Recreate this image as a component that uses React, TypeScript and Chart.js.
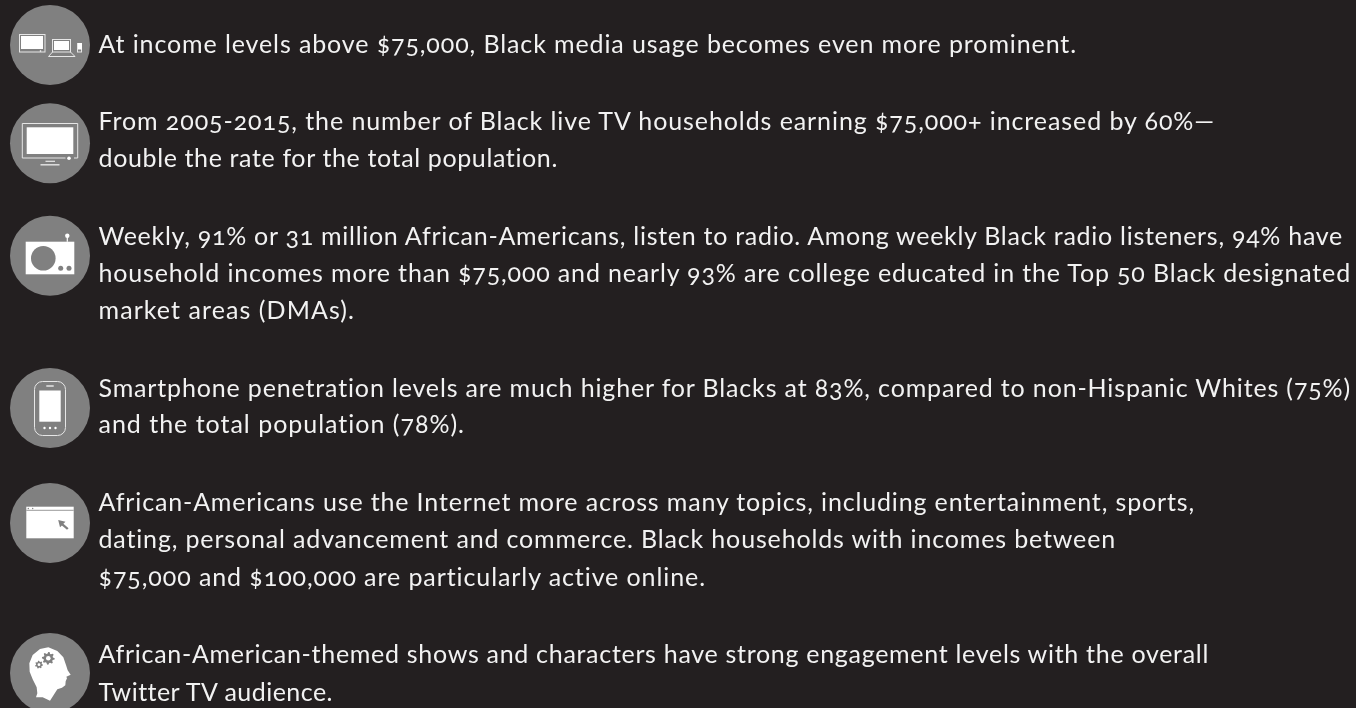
import React, { useEffect, useLayoutEffect, useRef } from "react";
import { Chart, registerables } from "chart.js";

Chart.register(...registerables);

const circleX = [50, 50, 50, 50, 50, 50];
const circleY = [45, 143.3, 255.7, 408, 523, 673];
const circleR = [40, 40, 40, 40, 40, 40];

const textLines = [
  "At income levels above $75,000, Black media usage becomes even more prominent.",
  "From 2005-2015, the number of Black live TV households earning $75,000+ increased by 60%—",
  "double the rate for the total population.",
  "Weekly, 91% or 31 million African-Americans, listen to radio. Among weekly Black radio listeners, 94% have",
  "household incomes more than $75,000 and nearly 93% are college educated in the Top 50 Black designated",
  "market areas (DMAs).",
  "Smartphone penetration levels are much higher for Blacks at 83%, compared to non-Hispanic Whites (75%)",
  "and the total population (78%).",
  "African-Americans use the Internet more across many topics, including entertainment, sports,",
  "dating, personal advancement and commerce. Black households with incomes between",
  "$75,000 and $100,000 are particularly active online.",
  "African-American-themed shows and characters have strong engagement levels with the overall",
  "Twitter TV audience.",
];
const lineBaselines = [53, 130, 167, 245, 282, 319, 397, 433, 511, 548, 586, 663, 701];
const lineRightEnds = [1077, 1215, 558, 1343, 1351, 355, 1351, 465, 1195, 1116, 706, 1209, 333];

const BG = "#231f20";
const GREY = "#808080";
const WHITE = "#ffffff";
const SOFT = "#e6e6e6";
const TEXT_LEFT = 98.5;
const FONT_SIZE = 25;
const BASELINE_OFFSET = 24;

type C = CanvasRenderingContext2D;

function rect(c: C, x0: number, y0: number, x1: number, y1: number, col: string) {
  c.fillStyle = col;
  c.fillRect(x0, y0, x1 - x0, y1 - y0);
}
function frame(c: C, x0: number, y0: number, x1: number, y1: number, col: string, w = 1) {
  c.strokeStyle = col;
  c.lineWidth = w;
  c.strokeRect(x0, y0, x1 - x0, y1 - y0);
}
function dot(c: C, x: number, y: number, r: number, col: string) {
  c.fillStyle = col;
  c.beginPath();
  c.arc(x, y, r, 0, Math.PI * 2);
  c.fill();
}
function seg(c: C, pts: number[][], col: string, w = 1) {
  c.strokeStyle = col;
  c.lineWidth = w;
  c.beginPath();
  pts.forEach((p, i) => (i ? c.lineTo(p[0], p[1]) : c.moveTo(p[0], p[1])));
  c.stroke();
}
function gear(c: C, x: number, y: number, r: number, teeth: number, hole: number) {
  c.fillStyle = GREY;
  c.beginPath();
  const n = teeth * 4;
  for (let i = 0; i < n; i++) {
    const a = (i / n) * Math.PI * 2;
    const rr = i % 4 < 2 ? r : r * 0.74;
    const px = x + Math.cos(a) * rr;
    const py = y + Math.sin(a) * rr;
    i ? c.lineTo(px, py) : c.moveTo(px, py);
  }
  c.closePath();
  c.fill();
  dot(c, x, y, hole, WHITE);
}

const icons: ((c: C, x: number, y: number) => void)[] = [
  (c, x, y) => {
    frame(c, x - 30.5, y - 10.5, x - 5, y + 7, SOFT);
    rect(c, x - 29, y - 9, x - 7, y + 4, WHITE);
    dot(c, x - 9.5, y + 6, 0.8, WHITE);
    frame(c, x + 2.5, y - 5.5, x + 20.5, y + 7, SOFT);
    rect(c, x + 4, y - 4, x + 19, y + 5, WHITE);
    seg(c, [[x + 2.5, y + 7], [x - 1.5, y + 11.5], [x + 25, y + 11.5], [x + 20.5, y + 7]], SOFT);
    frame(c, x + 27.5, y - 1.5, x + 31.5, y + 7, SOFT);
    rect(c, x + 28, y - 2, x + 32, y + 4.5, WHITE);
  },
  (c, x, y) => {
    seg(c, [[x + 24, y + 14.7], [x + 27.7, y + 14.7], [x + 27.7, y - 19.8], [x - 27.7, y - 19.8], [x - 27.7, y + 14.7], [x + 15.5, y + 14.7]], SOFT);
    rect(c, x - 23.3, y - 16, x + 23.3, y + 10.7, WHITE);
    dot(c, x + 19, y + 15, 1.8, WHITE);
    seg(c, [[x - 4.5, y + 18], [x + 5, y + 18]], SOFT, 1.2);
    seg(c, [[x - 9.5, y + 21.5], [x + 9.5, y + 21.5]], SOFT, 1.4);
  },
  (c, x, y) => {
    rect(c, x - 24.3, y - 14, x + 24.3, y + 18.6, WHITE);
    dot(c, x - 6.7, y + 2.6, 12.3, GREY);
    dot(c, x + 10.7, y + 12.6, 2.5, GREY);
    dot(c, x + 19, y + 12.6, 2.5, GREY);
    seg(c, [[x + 17.3, y - 19], [x + 17.3, y - 14]], WHITE, 1.2);
    dot(c, x + 17.3, y - 20, 2.2, WHITE);
  },
  (c, x, y) => {
    c.strokeStyle = SOFT;
    c.lineWidth = 1;
    c.beginPath();
    c.roundRect(x - 15.5, y - 26.5, 31, 54, 8);
    c.stroke();
    rect(c, x - 10.7, y - 17.5, x + 10.7, y + 13.7, WHITE);
    seg(c, [[x - 3.7, y - 22], [x + 3.7, y - 22]], WHITE, 1.2);
    dot(c, x - 5.5, y + 20, 1.2, WHITE);
    dot(c, x, y + 20, 1.2, WHITE);
    dot(c, x + 5.5, y + 20, 1.2, WHITE);
  },
  (c, x, y) => {
    rect(c, x - 23.7, y - 16.3, x + 23.7, y + 15.3, WHITE);
    seg(c, [[x - 23.7, y - 12.7], [x + 23.7, y - 12.7]], GREY, 0.8);
    dot(c, x - 21.7, y - 14.5, 0.7, GREY);
    dot(c, x - 17.3, y - 14.5, 0.7, GREY);
    c.fillStyle = GREY;
    c.beginPath();
    c.moveTo(x + 8.2, y - 3);
    c.lineTo(x + 15.5, y - 1.2);
    c.lineTo(x + 13.4, y + 0.7);
    c.lineTo(x + 18.6, y + 5.2);
    c.lineTo(x + 17, y + 6.8);
    c.lineTo(x + 11.9, y + 2.4);
    c.lineTo(x + 10, y + 4.3);
    c.closePath();
    c.fill();
  },
  (c, x, y) => {
    const head = [
      [85, 22], [60, 27], [38, 45], [28, 70], [29, 95], [38, 118], [50, 142], [52, 160], [48, 172],
      [68, 172], [90, 182], [101, 165], [112, 148], [126, 143], [136, 136], [137, 124], [141, 115],
      [139, 110], [152, 104], [143, 91], [138, 75], [130, 52], [112, 33],
    ];
    c.fillStyle = WHITE;
    c.beginPath();
    head.forEach((p, i) => {
      const px = x + p[0] / 3 - 30;
      const py = y + p[1] / 3 - 33;
      i ? c.lineTo(px, py) : c.moveTo(px, py);
    });
    c.closePath();
    c.fill();
    gear(c, x - 1.7, y - 14.7, 6.4, 8, 2.3);
    gear(c, x - 11, y - 8.3, 4, 7, 1.4);
  },
];

const iconPlugin = {
  id: "icons",
  afterDatasetsDraw(chart: any) {
    const c: C = chart.ctx;
    const { x, y } = chart.scales;
    c.save();
    icons.forEach((draw, i) => draw(c, x.getPixelForValue(circleX[i]), y.getPixelForValue(circleY[i])));
    c.restore();
  },
};

export default function App() {
  const canvasRef = useRef<HTMLCanvasElement>(null);
  const spans = useRef<(HTMLDivElement | null)[]>([]);

  useLayoutEffect(() => {
    document.body.style.margin = "0";
    document.body.style.background = BG;
    document.documentElement.style.overflow = "hidden";
    spans.current.forEach((el, i) => {
      if (!el) return;
      el.style.letterSpacing = "0px";
      const w = el.getBoundingClientRect().width;
      const sp = (lineRightEnds[i] - TEXT_LEFT - w) / textLines[i].length;
      el.style.letterSpacing = sp + "px";
    });
  }, []);

  useEffect(() => {
    const chart = new Chart(canvasRef.current as HTMLCanvasElement, {
      type: "bubble",
      data: {
        datasets: [
          {
            data: circleX.map((x, i) => ({ x, y: circleY[i], r: circleR[i] })),
            backgroundColor: GREY,
            borderWidth: 0,
            clip: false,
          },
        ],
      },
      options: {
        animation: false,
        responsive: false,
        layout: { padding: 0, autoPadding: false },
        plugins: { legend: { display: false }, tooltip: { enabled: false } },
        scales: {
          x: { type: "linear", min: 0, max: 1356, display: false },
          y: { type: "linear", min: 0, max: 708, reverse: true, display: false },
        },
      },
      plugins: [iconPlugin],
    } as any);
    return () => chart.destroy();
  }, []);

  return (
    <div style={{ position: "relative", width: 1356, height: 708, background: BG, overflow: "hidden" }}>
      <canvas ref={canvasRef} width={1356} height={708} style={{ position: "absolute", left: 0, top: 0 }} />
      {textLines.map((t, i) => (
        <div
          key={i}
          ref={(el) => {
            spans.current[i] = el;
          }}
          style={{
            position: "absolute",
            left: TEXT_LEFT,
            top: lineBaselines[i] - BASELINE_OFFSET,
            whiteSpace: "nowrap",
            color: "#f2f2f2",
            fontFamily: "Lato, sans-serif",
            fontSize: FONT_SIZE,
            lineHeight: "28px",
            fontFeatureSettings: '"onum" 1, "liga" 0, "clig" 0',
            fontVariantLigatures: "none",
          }}
        >
          {t}
        </div>
      ))}
    </div>
  );
}
